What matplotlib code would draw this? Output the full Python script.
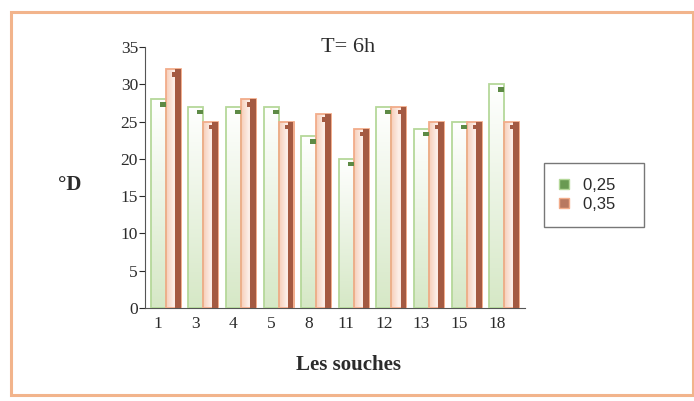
import matplotlib.pyplot as plt
import numpy as np
from matplotlib.patches import Rectangle
from matplotlib.colors import LinearSegmentedColormap

# Données
souches = ["1", "3", "4", "5", "8", "11", "12", "13", "15", "18"]
serie_025 = [28, 27, 27, 27, 23, 20, 27, 24, 25, 30]
serie_035 = [32, 25, 28, 25, 26, 24, 27, 25, 25, 25]
noms_series = ["0,25", "0,35"]

plt.rcParams['font.family'] = ['Liberation Serif', 'DejaVu Serif']
couleur_texte = '#2b2b2b'

fig = plt.figure(figsize=(6.94, 4.01), dpi=100)
fig.patch.set_facecolor('white')

# cadre orange autour du graphique
fig.patches.append(Rectangle((11 / 694, 1 - 395 / 401), 682 / 694, 383 / 401,
                             transform=fig.transFigure, fill=False,
                             edgecolor='#f2b48c', linewidth=2.2))

ax = fig.add_axes([145 / 694, 1 - 308 / 401, 380 / 694, 261 / 401])

x = np.arange(len(souches))
w = 0.4

# dégradés pour imiter l'effet 3D
cmap_vert = LinearSegmentedColormap.from_list('vert', ['#d6e8c6', '#ffffff'])
cmap_orange = LinearSegmentedColormap.from_list('orange', ['#f6cdb8', '#fdf0ea', '#f6cdb8'])
grad_v = np.linspace(0, 1, 100).reshape(-1, 1)
grad_h = np.linspace(0, 1, 100).reshape(1, -1)

# barres 0,25 (vert clair)
barres_v = ax.bar(x - w / 2, serie_025, width=w, color='none', edgecolor='#b5d89a',
                  linewidth=1.3, zorder=3)
for b in barres_v:
    im = ax.imshow(grad_v, cmap=cmap_vert, aspect='auto', origin='lower', zorder=2,
                   extent=[b.get_x(), b.get_x() + b.get_width(), 0, b.get_height()])
    im.set_clip_path(b)
ax.bar(x - w / 2 + w * 0.3, [0.6] * len(x), bottom=np.array(serie_025) - 1.0,
       width=w * 0.4, color='#5d8a45', zorder=4)

# barres 0,35 (orange / brun)
barres_o = ax.bar(x + w / 2, serie_035, width=w, color='none', edgecolor='#f2ac8a',
                  linewidth=1.3, zorder=3)
for b in barres_o:
    im = ax.imshow(grad_h, cmap=cmap_orange, aspect='auto', origin='lower', zorder=2,
                   extent=[b.get_x(), b.get_x() + b.get_width(), 0, b.get_height()])
    im.set_clip_path(b)
ax.bar(x + w / 2 + w * 0.3, serie_035, width=w * 0.38, color='#a45a42', zorder=4)
ax.bar(x + w / 2 + w * 0.18, [0.6] * len(x), bottom=np.array(serie_035) - 1.0,
       width=w * 0.55, color='#a45a42', zorder=4)

ax.set_xlim(-0.55, len(souches) - 0.45)
ax.set_ylim(0, 35)
ax.set_yticks(range(0, 36, 5))
ax.set_xticks(x - w / 2)
ax.set_xticklabels(souches)
ax.tick_params(axis='y', length=4, direction='out', labelsize=12.5, colors=couleur_texte, pad=1)
ax.tick_params(axis='x', length=0, labelsize=12.5, colors=couleur_texte, pad=6)

for s in ['top', 'right']:
    ax.spines[s].set_visible(False)
ax.spines['left'].set_color('#555555')
ax.spines['bottom'].set_color('#555555')
ax.patch.set_alpha(0)

# textes
fig.text(348 / 694, 1 - 48 / 401, "T= 6h", ha='center', va='center', fontsize=16,
         color=couleur_texte)
fig.text(348 / 694, 1 - 365 / 401, "Les souches", ha='center', va='center',
         fontsize=15, fontweight='bold', color=couleur_texte)
fig.text(70 / 694, 1 - 185 / 401, "°D", ha='center', va='center',
         fontsize=15, fontweight='bold', color=couleur_texte)

# légende
handles = [Rectangle((0, 0), 1, 1, facecolor='#6a9a52', edgecolor='#b5d89a'),
           Rectangle((0, 0), 1, 1, facecolor='#b87860', edgecolor='#f2ac8a')]
leg = fig.legend(handles, noms_series, loc='center', bbox_to_anchor=(594 / 694, 1 - 195 / 401),
                 prop={'family': 'Liberation Sans', 'size': 12}, frameon=True,
                 fancybox=False, handlelength=0.6, handleheight=0.6, borderpad=0.9,
                 handletextpad=0.8, labelspacing=0.25, borderaxespad=0)
leg.get_frame().set_edgecolor('#555555')
leg.get_frame().set_linewidth(1.0)
for t in leg.get_texts():
    t.set_color(couleur_texte)
    t.set_text(t.get_text() + "   ")

fig.savefig("out.png", dpi=100)
